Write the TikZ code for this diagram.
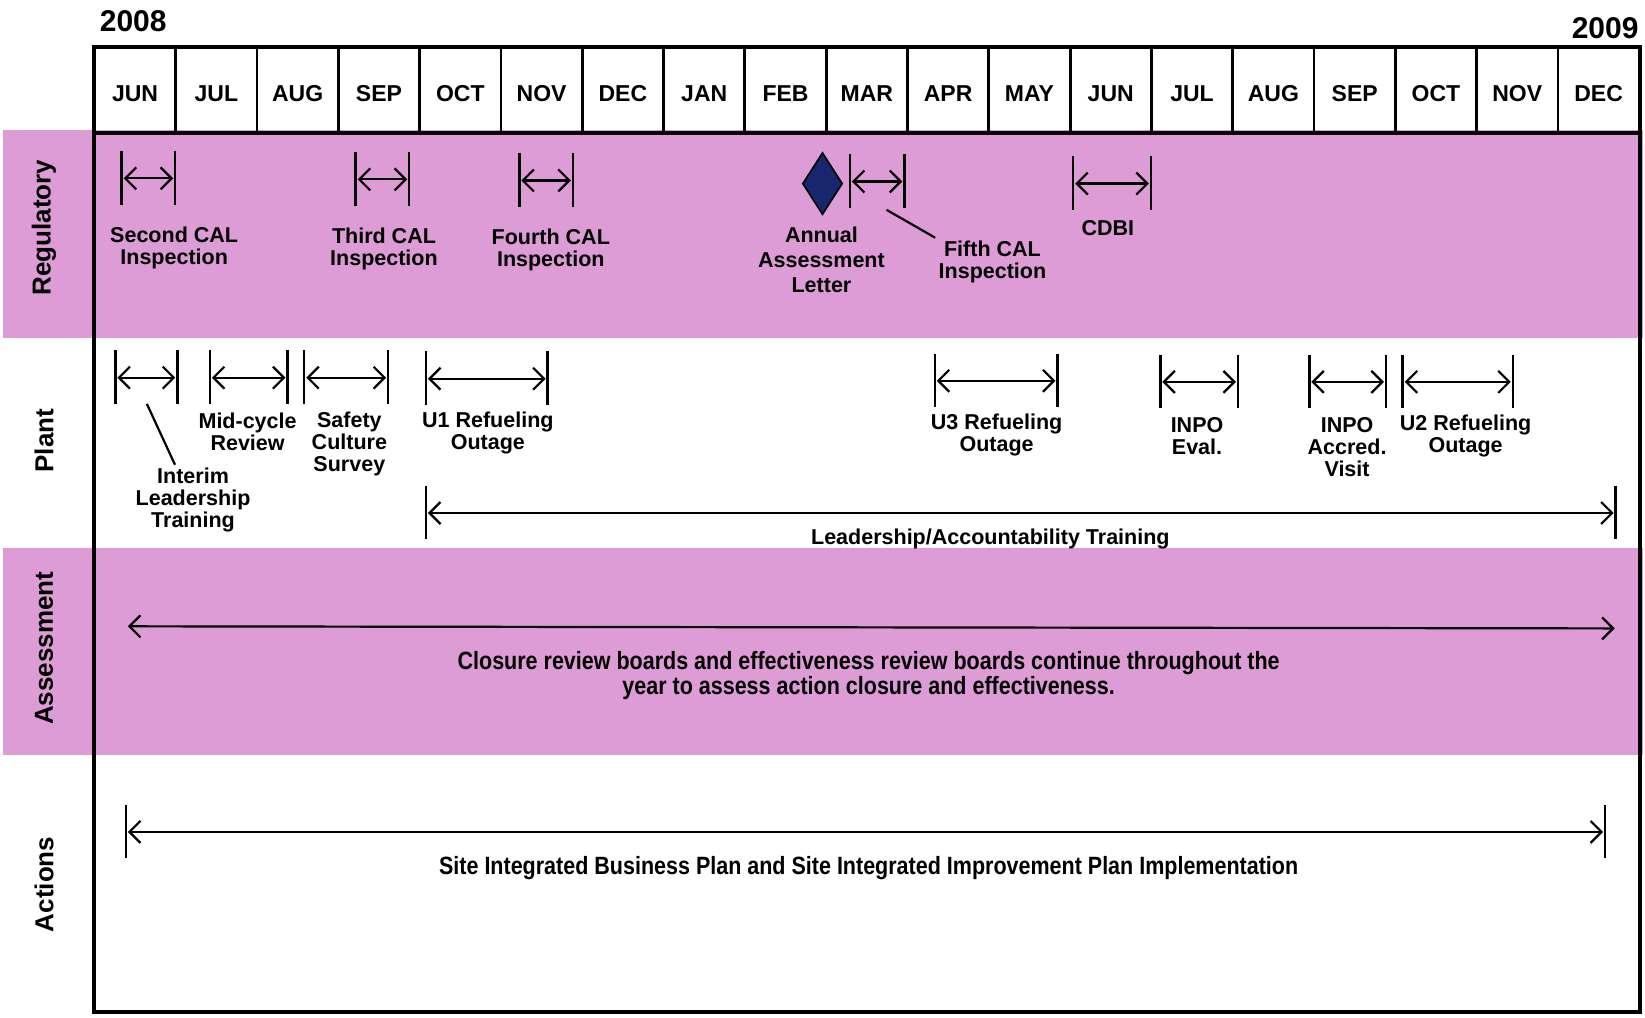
\documentclass[tikz,border=0pt]{standalone}
\usepackage{fontspec}
\setmainfont{Liberation Sans}
\newfontfamily\narrowfont[FakeStretch=0.86]{Liberation Sans}
\usepackage{tikz}
\usetikzlibrary{arrows.meta, positioning, shapes.geometric}

\definecolor{bandpink}{RGB}{222,156,214}
\definecolor{navy}{RGB}{24,38,110}

\tikzset{
  frame/.style={line width=4pt},
  sep/.style={line width=2.8pt},
  span/.style={line width=2.2pt, <->, shorten <=2pt, shorten >=2pt},
  endbar/.style={line width=2.4pt},
  leader/.style={line width=2.2pt},
  month/.style={font=\bfseries\fontsize{23}{25}\selectfont},
  year/.style={font=\bfseries\fontsize{30}{32}\selectfont},
  rowlbl/.style={font=\bfseries\fontsize{26}{28}\selectfont, rotate=90},
  lbl/.style={font=\bfseries\fontsize{21.5}{22}\selectfont, align=center},
  wide/.style={font=\narrowfont\bfseries\fontsize{25}{25}\selectfont, align=center},
}

\begin{document}
\begin{tikzpicture}[x=1.049pt, y=-1.049pt, >={Straight Barb[length=11pt,width=22pt]}]
\useasboundingbox (0,0) rectangle (1568,970);

%//bands
\fill[bandpink] (3,124) rectangle (1566,322);
\fill[bandpink] (3,522) rectangle (1566,720);

%//header
\def\mw{77.5}
\foreach \m [count=\i from 0] in {JUN,JUL,AUG,SEP,OCT,NOV,DEC,JAN,FEB,MAR,APR,MAY,JUN,JUL,AUG,SEP,OCT,NOV,DEC}
\node[month] (m\i) at (90+\mw*\i+\mw/2, 89) {\m};
\foreach \i in {1,...,18}
\draw[sep] (90+\mw*\i,45) -- (90+\mw*\i,127);

\draw[frame] (90,45) rectangle (1563,965);
\draw[frame] (90,127) -- (1563,127);

\node[year] (y08) at (127,20) {2008};
\node[year] (y09) at (1530,27) {2009};

\node[rowlbl] (r-reg) at (42,217) {Regulatory};
\node[rowlbl] (r-pla) at (42,420) {Plant};
\node[rowlbl] (r-ass) at (42,618) {Assessment};
\node[rowlbl] (r-act) at (42,843) {Actions};

%//intervals with end bars
\foreach \nm/\xa/\xb/\y in {sec/116/167/170, thi/339/390/171, fou/495/546/172, fif/810/862/173, cdb/1023/1097/175,
  int/110/169/360, mid/200/274/360, saf/290/370/360, uone/406/522/361, uthr/891/1008/363,
  eval/1106/1180/364, accr/1248/1321/364, utwo/1337/1442/364, lead/406/1540/489, act/120/1530/793}
{
\coordinate (\nm-l) at (\xa,\y);
\coordinate (\nm-r) at (\xb,\y);
\draw[endbar] (\nm-l) ++(0,-26) -- ++(0,51);
\draw[endbar] (\nm-r) ++(0,-26) -- ++(0,51);
\draw[span] (\nm-l) -- (\nm-r);
}

\coordinate (ass-l) at (120,597);
\coordinate (ass-r) at (1541,599);
\draw[span] (ass-l) -- (ass-r);

\node[diamond, draw=black, fill=navy, line width=1.6pt, inner sep=0pt, minimum width=40pt, minimum height=62pt] (aal) at (784,175) {};

%//labels
\node[lbl] (l-sec) at (166,236) {Second CAL\\Inspection};
\node[lbl] (l-thi) at (366,237) {Third CAL\\Inspection};
\node[lbl] (l-fou) at (525,238) {Fourth CAL\\Inspection};
\node[lbl, font=\bfseries\fontsize{21.5}{25}\selectfont] (l-aal) at (783,248) {Annual\\Assessment\\Letter};
\node[lbl] (l-fif) at (946,250) {Fifth CAL\\Inspection};
\node[lbl] (l-cdb) at (1056,217) {CDBI};

\node[lbl] (l-mid) at (236,412) {Mid-cycle\\Review};
\node[lbl] (l-saf) at (333,423) {Safety\\Culture\\Survey};
\node[lbl] (l-uone) at (465,413) {U1 Refueling\\Outage};
\node[lbl] (l-int) at (184,477) {Interim\\Leadership\\Training};
\node[lbl] (l-uthr) at (950,415) {U3 Refueling\\Outage};
\node[lbl] (l-eval) at (1141,416) {INPO\\Eval.};
\node[lbl] (l-accr) at (1284,426) {INPO\\Accred.\\Visit};
\node[lbl] (l-utwo) at (1397,416) {U2 Refueling\\Outage};
\node[lbl] (l-lead) at (944,514) {Leadership/Accountability Training};

\node[wide] (l-ass) at (828,644) {Closure review boards and effectiveness review boards continue throughout the\\year to assess action closure and effectiveness.};
\node[wide] (l-act) at (828,827) {Site Integrated Business Plan and Site Integrated Improvement Plan Implementation};

%//leader lines
\coordinate (int-t) at (140,385);
\draw[leader] (int-t) -- ([xshift=-18pt]l-int.north);
\coordinate (fif-t) at (845,200);
\draw[leader] (fif-t) -- (l-fif.north west);
\end{tikzpicture}
\end{document}
